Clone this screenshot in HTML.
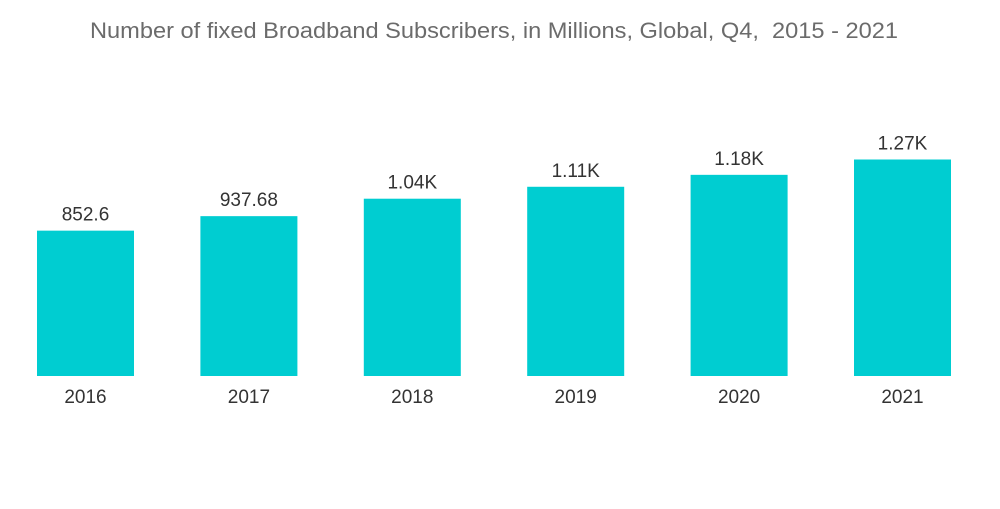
<!DOCTYPE html>
<html>
<head>
<meta charset="utf-8">
<style>
html,body{margin:0;padding:0;background:#fff;}
body{width:1000px;height:504px;overflow:hidden;font-family:"Liberation Sans",sans-serif;}
</style>
</head>
<body>
<svg width="1000" height="504" viewBox="0 0 1000 504">
<text x="90" y="38" xml:space="preserve" textLength="808" lengthAdjust="spacingAndGlyphs" font-family="Liberation Sans, sans-serif" font-size="22" fill="#6b6b6b">Number of fixed Broadband Subscribers, in Millions, Global, Q4,  2015 - 2021</text>
<g id="bars"></g>
</svg>
<script>
const categories = ["2016","2017","2018","2019","2020","2021"];
const values = [852.6, 937.68, 1040, 1110, 1180, 1270];
const valueLabels = ["852.6","937.68","1.04K","1.11K","1.18K","1.27K"];

const baseY = 376, maxH = 216.5, maxV = 1270;
const x0 = 37, step = 163.4, barW = 97;
function yScale(v){ return baseY - v / maxV * maxH; }
function xScale(i){ return x0 + i * step; }

const g = document.getElementById('bars');
const ns = 'http://www.w3.org/2000/svg';
categories.forEach((c, i) => {
  const x = xScale(i), y = yScale(values[i]);
  const r = document.createElementNS(ns, 'rect');
  r.setAttribute('x', x); r.setAttribute('y', y);
  r.setAttribute('width', barW); r.setAttribute('height', baseY - y);
  r.setAttribute('fill', '#00cdd1');
  
  
  g.appendChild(r);
  const t = document.createElementNS(ns, 'text');
  t.setAttribute('x', x + barW / 2); t.setAttribute('y', y - 10);
  t.setAttribute('text-anchor', 'middle'); t.setAttribute('font-size', '19');
  t.setAttribute('fill', '#333');
  t.textContent = valueLabels[i];
  
  
  g.appendChild(t);
  const l = document.createElementNS(ns, 'text');
  l.setAttribute('x', x + barW / 2); l.setAttribute('y', 403);
  l.setAttribute('text-anchor', 'middle'); l.setAttribute('font-size', '19');
  l.setAttribute('fill', '#333');
  l.textContent = c;
  
  
  g.appendChild(l);
});
</script>
</body>
</html>
